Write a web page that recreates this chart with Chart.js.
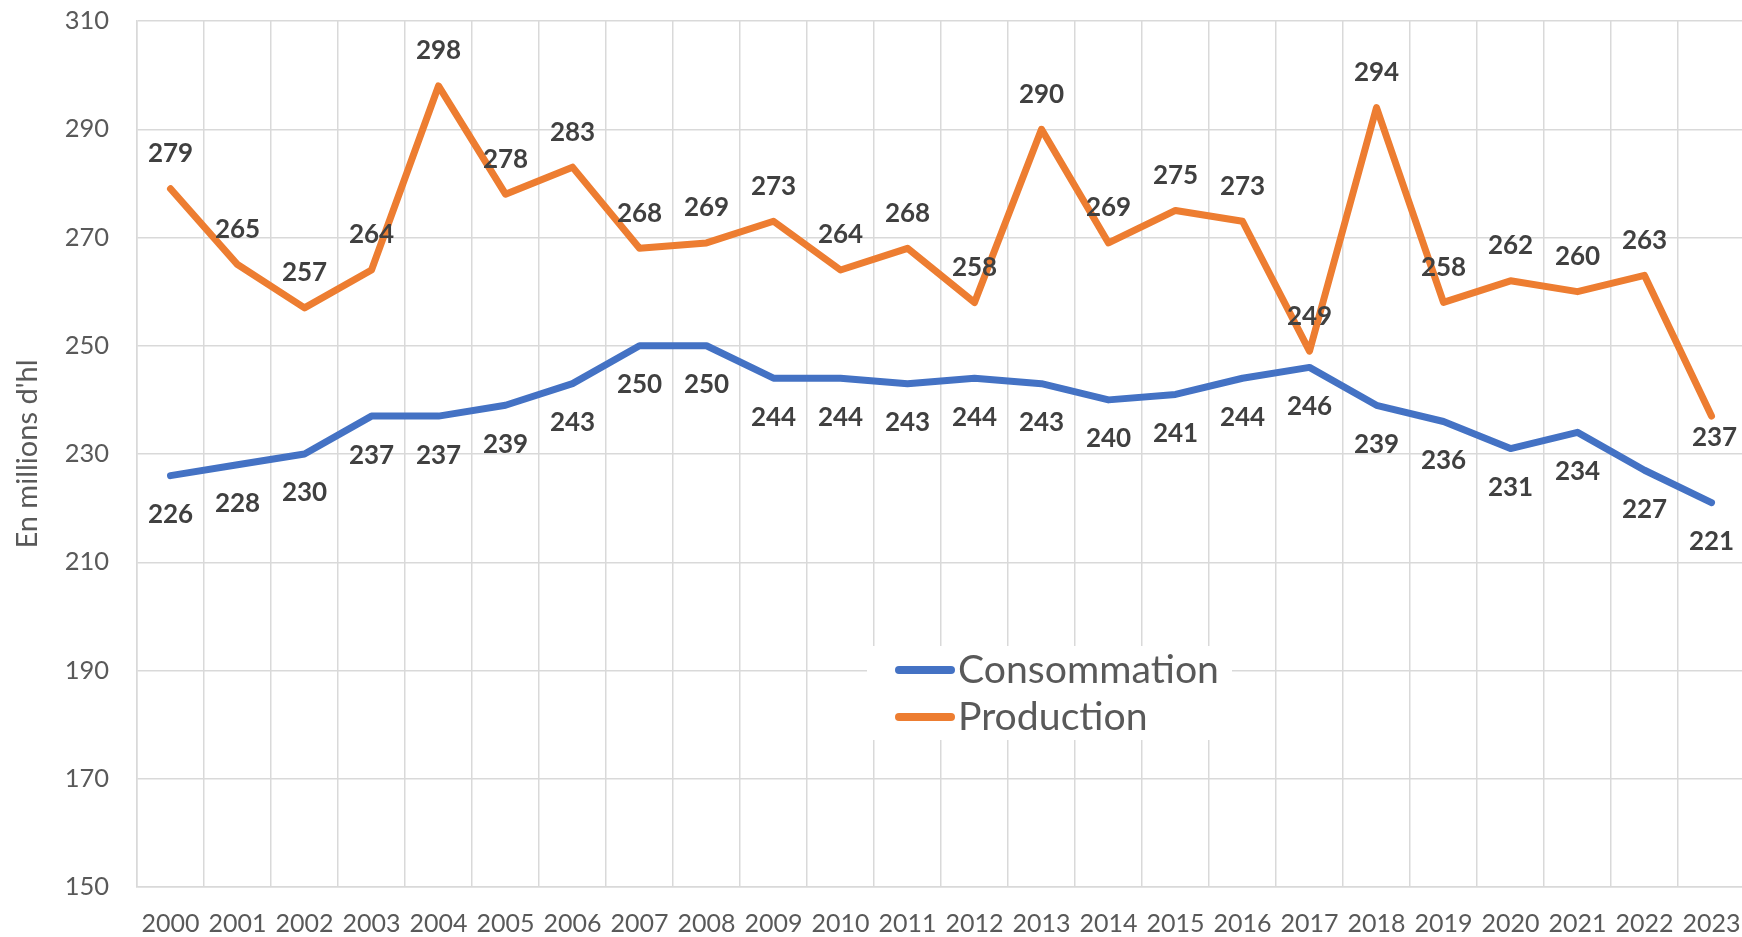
<!DOCTYPE html>
<html>
<head>
<meta charset="utf-8">
<script src="https://cdn.jsdelivr.net/npm/chart.js@4"></script>
<style>
  html, body { margin: 0; padding: 0; background: #ffffff; overflow: hidden; }
  #wrap { width: 1742px; height: 937px; overflow: hidden; position: relative; }
  canvas { display: block; }
</style>
</head>
<body>
<div id="wrap"><canvas id="c" width="1745" height="937"></canvas></div>
<script>
const years = ['2000','2001','2002','2003','2004','2005','2006','2007','2008','2009','2010','2011',
               '2012','2013','2014','2015','2016','2017','2018','2019','2020','2021','2022','2023'];
const consommation = [226,228,230,237,237,239,243,250,250,244,244,243,244,243,240,241,244,246,239,236,231,234,227,221];
const production   = [279,265,257,264,298,278,283,268,269,273,264,268,258,290,269,275,273,249,294,258,262,260,263,237];
const yTicks = [150,170,190,210,230,250,270,290,310];
const yTitle = "En millions d'hl";
const seriesNames = ['Consommation','Production'];

const BLUE = '#4472C4';
const ORANGE = '#ED7D31';
const GRID = '#D9D9D9';
const TEXT = '#595959';
const LABEL = '#404040';

// label placement tweaks (style only): datasetIndex -> pointIndex -> {dx, dy}
const labelOverrides = { 1: { 23: { dx: 3, dy: 21 } } };

const dataLabelPlugin = {
  id: 'dataLabelPlugin',
  afterDatasetsDraw(chart) {
    const ctx = chart.ctx;
    ctx.save();
    ctx.font = 'bold 26px Lato';
    ctx.fillStyle = LABEL;
    ctx.textAlign = 'center';
    ctx.textBaseline = 'middle';
    chart.data.datasets.forEach((ds, i) => {
      const meta = chart.getDatasetMeta(i);
      const off = ds.labelOffset;
      meta.data.forEach((pt, j) => {
        const ov = (labelOverrides[i] || {})[j];
        const dx = ov ? ov.dx : 0;
        const dy = ov ? ov.dy : off;
        ctx.fillText(String(ds.data[j]), pt.x + dx, pt.y + dy);
      });
    });
    ctx.restore();
  }
};

const legendPlugin = {
  id: 'boxLegend',
  beforeDatasetsDraw(chart) {
    const ctx = chart.ctx;
    ctx.save();
    ctx.fillStyle = '#ffffff';
    ctx.fillRect(867, 646, 365, 94);
    const rows = [670, 717];
    chart.data.datasets.forEach((ds, i) => {
      const y = rows[i];
      ctx.strokeStyle = ds.borderColor;
      ctx.lineWidth = 8;
      ctx.lineCap = 'round';
      ctx.beginPath();
      ctx.moveTo(899, y);
      ctx.lineTo(951, y);
      ctx.stroke();
      ctx.fillStyle = TEXT;
      ctx.font = '39.2px Lato';
      ctx.textAlign = 'left';
      ctx.textBaseline = 'middle';
      ctx.fillText(ds.label, 958, y);
    });
    ctx.restore();
  }
};

function build() {
  Chart.defaults.font.family = 'Lato';
  new Chart(document.getElementById('c'), {
    type: 'line',
    data: {
      labels: years,
      datasets: [
        { label: seriesNames[0], data: consommation, borderColor: BLUE, backgroundColor: BLUE,
          borderWidth: 7, pointRadius: 0, tension: 0, borderJoinStyle: 'round', borderCapStyle: 'round',
          labelOffset: 39 },
        { label: seriesNames[1], data: production, borderColor: ORANGE, backgroundColor: ORANGE,
          borderWidth: 7, pointRadius: 0, tension: 0, borderJoinStyle: 'round', borderCapStyle: 'round',
          labelOffset: -35 }
      ]
    },
    options: {
      responsive: false,
      animation: false,
      devicePixelRatio: 1,
      layout: { padding: { top: 21, left: 0, right: 0, bottom: 0 } },
      plugins: { legend: { display: false }, tooltip: { enabled: false } },
      scales: {
        x: {
          offset: true,
          grid: { offset: true, color: GRID, lineWidth: 1.5, drawTicks: false },
          border: { color: GRID, width: 1.5 },
          ticks: { color: TEXT, font: { size: 25 }, padding: 22, maxRotation: 0, autoSkip: false },
          afterFit(scale) { scale.height = 50; scale.paddingLeft = 0; scale.paddingRight = 0; }
        },
        y: {
          min: yTicks[0],
          max: yTicks[yTicks.length - 1],
          afterBuildTicks(scale) { scale.ticks = yTicks.map(v => ({ value: v })); },
          grid: { color: GRID, lineWidth: 1.5, drawTicks: false },
          border: { color: GRID, width: 1.5 },
          ticks: { color: TEXT, font: { size: 25.5 }, padding: 28 },
          title: { display: true, text: yTitle, color: TEXT, font: { size: 29 }, padding: { top: 10, bottom: 0 } },
          afterFit(scale) { scale.width = 137; scale.paddingTop = 0; scale.paddingBottom = 0; }
        }
      }
    },
    plugins: [legendPlugin, dataLabelPlugin]
  });
}

if (document.fonts && document.fonts.load) {
  Promise.all([
    document.fonts.load('25px Lato'),
    document.fonts.load('bold 26px Lato')
  ]).then(build, build);
} else {
  build();
}
</script>
</body>
</html>
